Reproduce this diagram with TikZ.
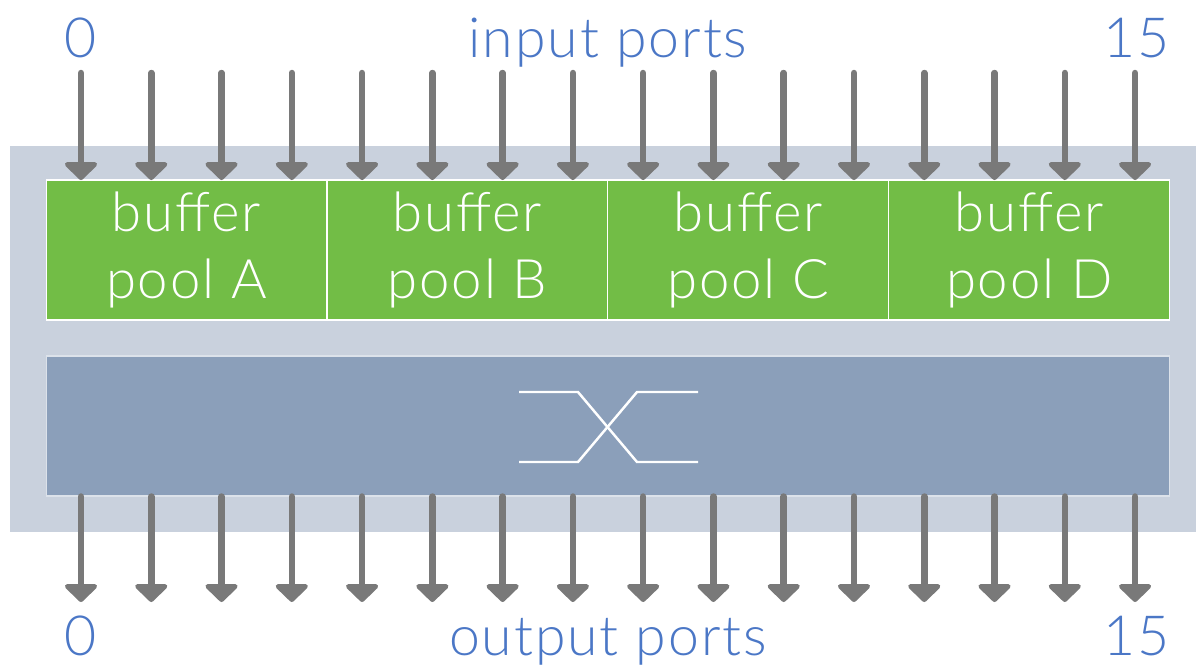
\documentclass[tikz,border=0pt]{standalone}
\usepackage{fontspec}
\setmainfont{Lato Light}[LetterSpace=3.5]
\usepackage{tikz}
\usetikzlibrary{arrows.meta}
\usetikzlibrary{positioning}
\definecolor{chassisgray}{HTML}{C9D1DD}
\definecolor{poolgreen}{HTML}{72BD46}
\definecolor{switchblue}{HTML}{8B9FBA}
\definecolor{portgray}{HTML}{797979}
\definecolor{labelblue}{HTML}{4B77C6}
\tikzset{port/.style = {draw=portgray, line width=0.13cm, line cap=round, -{Triangle[width=0.76cm, length=0.38cm, round=false]}}}
\tikzset{pool/.style = {fill=poolgreen, draw=white, line width=0.6pt, minimum width=5.62cm, minimum height=2.8cm, inner sep=0, outer sep=0, align=center, text=white, font=\fontsize{31}{38.5}\selectfont}}
\tikzset{portlabel/.style = {text=labelblue, anchor=base, inner sep=0, font=\fontsize{31.5}{38}\selectfont}}

\begin{document}
\begin{tikzpicture}[x=0.02cm, y=-0.02cm]
        \useasboundingbox (0,0) rectangle (1196,664);
        \node [fill=chassisgray, minimum width=23.72cm, minimum height=7.72cm, inner sep=0] (chassis) at (603,339) {};
        \node [pool] (poolA) at (186.5,250) {buffer\\pool A};
        \node [pool, right=0pt of poolA] (poolB) {buffer\\pool B};
        \node [pool, right=0pt of poolB] (poolC) {buffer\\pool C};
        \node [pool, right=0pt of poolC] (poolD) {buffer\\pool D};
        \node [fill=switchblue, draw=white!70!switchblue, line width=0.6pt, minimum width=22.48cm, minimum height=2.8cm] (switch) at (608,426) {};
        \draw [white, line width=1.4pt] (519,392) -- (578,392) -- (637,462) -- (698,462);
        \draw [white, line width=1.4pt] (519,462) -- (578,462) -- (637,392) -- (698,392);
        \foreach \i in {0,...,15} {
            \coordinate (in\i) at ({81+70.27*\i},73);
            \coordinate (out\i) at ({81+70.27*\i},602);
            \draw [port] (in\i) -- (in\i |- poolA.north);
            \draw [port] (out\i |- switch.south) -- (out\i);
        }
        \node [portlabel] (infirst) at (81,57) {0};
        \node [portlabel] (inname) at (608,57) {input ports};
        \node [portlabel] (inlast) at (1137,57) {15};
        \node [portlabel] (outfirst) at (81,655) {0};
        \node [portlabel] (outname) at (608,655) {output ports};
        \node [portlabel] (outlast) at (1137,655) {15};
    \end{tikzpicture}
\end{document}
